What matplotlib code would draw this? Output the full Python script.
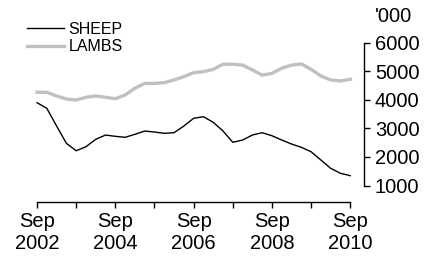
import matplotlib
matplotlib.use("Agg")
import matplotlib.pyplot as plt

# quarterly, Sep 2002 .. Sep 2010 ('000 head)
sheep = [3895, 3700, 3080, 2475, 2215, 2355, 2615, 2765, 2720, 2685, 2790,
         2905, 2870, 2825, 2846, 3080, 3350, 3405, 3210, 2905, 2510, 2590,
         2765, 2846, 2740, 2590, 2450, 2335, 2180, 1890, 1600, 1425, 1345]
lambs = [4260, 4260, 4130, 4025, 3990, 4085, 4130, 4085, 4035, 4165, 4400,
         4570, 4570, 4596, 4690, 4805, 4945, 4980, 5060, 5240, 5240, 5210,
         5040, 4860, 4920, 5100, 5210, 5250, 5060, 4830, 4690, 4655, 4715]
tick_labels = ["Sep\n2002", "", "Sep\n2004", "", "Sep\n2006", "",
               "Sep\n2008", "", "Sep\n2010"]
y_ticks = [1000, 2000, 3000, 4000, 5000, 6000]

plt.rcParams['font.family'] = ['Liberation Sans', 'DejaVu Sans']

W, H = 426, 259
fig = plt.figure(figsize=(W / 100, H / 100), dpi=100)
ax = fig.add_axes([37 / W, 1 - 201.7 / H, (364 - 37) / W, (201.7 - 42.5) / H])

x = list(range(len(sheep)))
ax.plot(x, lambs, color="#c0c0c0", lw=2.4, label="LAMBS", clip_on=False)
ax.plot(x, sheep, color="black", lw=1.0, label="SHEEP", clip_on=False)

ax.set_xlim(0, 33.4)
ax.set_ylim(434, 6000)

for s in ["left", "top"]:
    ax.spines[s].set_visible(False)
ax.spines["bottom"].set_bounds(0, 32)
ax.spines["right"].set_bounds(1000, 6000)
for s in ["bottom", "right"]:
    ax.spines[s].set_linewidth(1.0)

ax.set_xticks(range(0, 33, 4))
ax.set_xticklabels(tick_labels)
ax.yaxis.tick_right()
ax.set_yticks(y_ticks)
ax.set_yticklabels([str(v) for v in y_ticks])
ax.tick_params(axis="x", length=4.3, width=1.0, labelsize=14.5, pad=3)
ax.tick_params(axis="y", length=4.3, width=1.0, labelsize=14.5, pad=3.5)

fig.text(375 / W, 1 - 17 / H, "'000", fontsize=14.5, ha="left", va="center")

handles, labels = ax.get_legend_handles_labels()
ax.legend(handles[::-1], labels[::-1], loc="upper left",
          bbox_to_anchor=(27 / W, 1 - 22 / H), bbox_transform=fig.transFigure,
          frameon=False, fontsize=11.5, handlelength=2.3, handletextpad=0.3,
          labelspacing=0.15, borderaxespad=0, borderpad=0)

fig.savefig("out.png", dpi=100)
